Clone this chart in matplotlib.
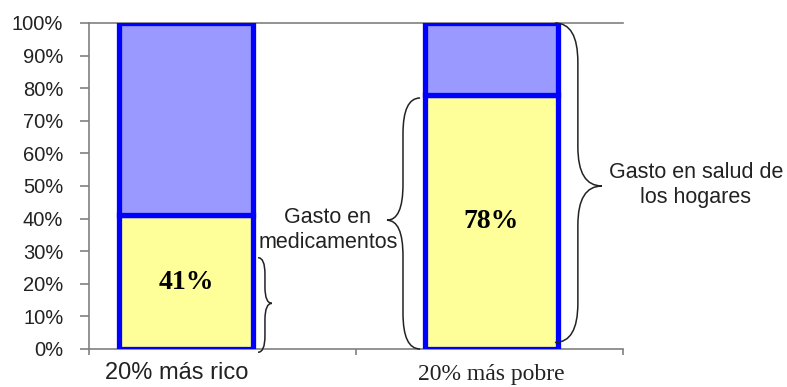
import matplotlib.pyplot as plt
from matplotlib.path import Path
from matplotlib.patches import PathPatch

# datos
categorias = ["20% más rico", "20% más pobre"]
medicamentos = [41, 78]          # % del gasto en salud destinado a medicamentos
resto = [100 - v for v in medicamentos]
etiquetas = ["41%", "78%"]

pos = [0.363, 1.507]
ancho = 0.5

fig = plt.figure(figsize=(7.87, 3.87), dpi=100)
ax = fig.add_axes([0.1131, 0.0982, 0.6785, 0.8424])

ax.bar(pos, medicamentos, ancho, color="#FFFF99", edgecolor="#0000FF", linewidth=3.8, zorder=3)
ax.bar(pos, resto, ancho, bottom=medicamentos, color="#9999FF", edgecolor="#0000FF",
       linewidth=3.8, zorder=3)

for x, v, t in zip(pos, medicamentos, etiquetas):
    ax.text(x, v / 2, t, ha="center", va="center", fontsize=20, fontweight="bold",
            family="Liberation Serif", zorder=4)

ax.set_xlim(0, 2)
ax.set_ylim(0, 100)
ax.set_yticks(range(0, 101, 10))
ax.set_yticklabels([f"{v}%" for v in range(0, 101, 10)], family="Liberation Sans", fontsize=14.5,
                   color="#222222")
ax.set_xticks([0, 1, 2])
ax.set_xticklabels([])
ax.tick_params(axis="y", length=6.5, width=1.2, color="#808080", pad=12)
ax.tick_params(axis="x", length=4, width=1.2, color="#808080")
for s in ["top", "right"]:
    ax.spines[s].set_visible(False)
for s in ["left", "bottom"]:
    ax.spines[s].set_color("#808080")
    ax.spines[s].set_linewidth(1.2)
ax.axhline(100, color="#808080", lw=1.2, zorder=1, clip_on=False)

# nombres de las categorías (cada uno en su fuente)
trans = ax.get_xaxis_transform()
ax.text(0.33, -0.04, categorias[0], transform=trans, ha="center", va="top",
        fontsize=17, family="Liberation Sans", color="#222222")
ax.text(1.507, -0.045, categorias[1], transform=trans, ha="center", va="top",
        fontsize=17, family="Liberation Serif", color="#222222")


def llave(xb, xm, xt, y0, y1, yt, r):
    verts = [(xb, y1), (xm, y1), (xm, y1 - r),
             (xm, yt + r),
             (xm, yt), (xt, yt),
             (xm, yt), (xm, yt - r),
             (xm, y0 + r),
             (xm, y0), (xb, y0)]
    codes = [Path.MOVETO, Path.CURVE3, Path.CURVE3,
             Path.LINETO,
             Path.CURVE3, Path.CURVE3,
             Path.CURVE3, Path.CURVE3,
             Path.LINETO,
             Path.CURVE3, Path.CURVE3]
    ax.add_patch(PathPatch(Path(verts, codes), fill=False, lw=1.1, edgecolor="#222222",
                           clip_on=False, zorder=5))


llave(0.633, 0.659, 0.685, -1, 28, 14, 5)
llave(1.240, 1.176, 1.116, 0, 77, 39.5, 11)
llave(1.745, 1.831, 1.921, 2, 100, 50, 12)

ax.text(0.895, 36.5, "Gasto en\nmedicamentos", ha="center", va="center", fontsize=15.5,
        family="Liberation Sans", color="#222222", linespacing=1.2)
ax.text(2.273, 50.3, "Gasto en salud de\nlos hogares", ha="center", va="center", fontsize=15.5,
        family="Liberation Sans", color="#222222", linespacing=1.2, clip_on=False)

fig.savefig("out.png", dpi=100)
